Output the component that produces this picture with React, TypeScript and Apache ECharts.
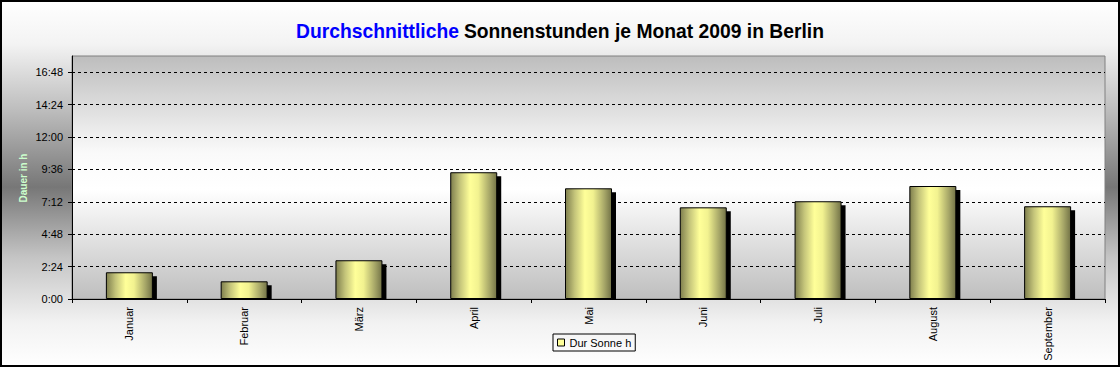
import React, { useEffect, useRef } from "react";
import * as echarts from "echarts";

const categories = ["Januar", "Februar", "März", "April", "Mai", "Juni", "Juli", "August", "September"];
// average sunshine duration in hours
const sunHours = [1.98, 1.31, 2.87, 9.39, 8.2, 6.79, 7.24, 8.37, 6.87];
const seriesName = "Dur Sonne h";
const yAxisTitle = "Dauer in h";
const yMin = 0;
const yMax = 18;
const yInterval = 2.4;

const fmtTime = (v: number) => {
  const m = Math.round(v * 60);
  return Math.floor(m / 60) + ":" + String(m % 60).padStart(2, "0");
};

export default function App() {
  const ref = useRef<HTMLDivElement>(null);
  useEffect(() => {
    document.body.style.margin = "0";
    if (!ref.current) return;
    const chart = echarts.init(ref.current, undefined, { renderer: "svg" });
    const font = "Arial, 'Liberation Sans', sans-serif";
    const barWidth = 47;
    const barGradient = {
      type: "linear", x: 0, y: 0, x2: 1, y2: 0,
      colorStops: [
        { offset: 0, color: "#7f7f4e" },
        { offset: 0.2, color: "#c4c47a" },
        { offset: 0.42, color: "#ffff99" },
        { offset: 0.6, color: "#f2f290" },
        { offset: 0.85, color: "#a5a567" },
        { offset: 1, color: "#737347" },
      ],
    };
    chart.setOption({
      animation: false,
      textStyle: { fontFamily: font },
      title: {
        text: "{b|Durchschnittliche} {k|Sonnenstunden je Monat 2009 in Berlin}",
        left: "center",
        top: 17,
        textStyle: {
          rich: {
            b: { color: "#0000ff", fontWeight: "bold", fontSize: 19.3, fontFamily: font },
            k: { color: "#000000", fontWeight: "bold", fontSize: 19.3, fontFamily: font },
          },
        },
      },
      legend: {
        data: [seriesName],
        left: 553,
        top: 334,
        padding: [3, 4],
        borderColor: "#000",
        borderWidth: 1,
        itemWidth: 7,
        itemHeight: 7,
        icon: "rect",
        itemStyle: { color: "#ffff99", borderColor: "#000", borderWidth: 1 },
        textStyle: { fontSize: 11, color: "#000", fontFamily: font },
      },
      grid: {
        left: 72,
        right: 15,
        top: 56,
        bottom: 68,
        show: true,
        borderColor: "#808080",
        borderWidth: 1,
        backgroundColor: {
          type: "linear", x: 0, y: 0, x2: 0, y2: 1,
          colorStops: [
            { offset: 0, color: "#bdbdbd" },
            { offset: 0.4, color: "#fafafa" },
            { offset: 0.55, color: "#ffffff" },
            { offset: 1, color: "#bebebe" },
          ],
        },
      },
      xAxis: {
        type: "category",
        data: categories,
        axisLine: { lineStyle: { color: "#000", width: 1 } },
        axisTick: { show: true, length: 4, lineStyle: { color: "#000" } },
        axisLabel: { rotate: 90, margin: 8, fontSize: 11, color: "#000", fontFamily: font },
      },
      yAxis: {
        type: "value",
        min: yMin,
        max: yMax,
        interval: yInterval,
        axisLine: { show: true, lineStyle: { color: "#000", width: 1 } },
        axisTick: { show: true, length: 4, lineStyle: { color: "#000" } },
        axisLabel: { formatter: fmtTime, margin: 9, fontSize: 11, color: "#000", fontFamily: font, showMaxLabel: false },
        splitLine: { show: true, showMaxLine: false, lineStyle: { color: "#000", type: [3, 3], width: 1 } },
      },
      graphic: [
        {
          type: "text",
          x: 23,
          y: 178,
          rotation: Math.PI / 2,
          silent: true,
          style: {
            text: yAxisTitle,
            fill: "#ccffcc",
            font: "bold 10px Arial, 'Liberation Sans', sans-serif",
            align: "center",
            verticalAlign: "middle",
          },
        },
        {
          type: "rect",
          shape: { x: 1, y: 1, width: 1118, height: 365 },
          style: { fill: "none", stroke: "#000", lineWidth: 2 },
          z: 100,
          silent: true,
        },
      ],
      series: [
        {
          type: "custom",
          name: "shadow",
          z: 1,
          silent: true,
          data: sunHours.map((v, i) => [i, v]),
          renderItem: (params: any, api: any) => {
            const top = api.coord([api.value(0), api.value(1)]);
            const base = api.coord([api.value(0), 0]);
            return {
              type: "rect",
              shape: { x: top[0] - barWidth / 2 + 4, y: top[1] + 4, width: barWidth, height: Math.max(0, base[1] - top[1] - 4) },
              style: { fill: "#000" },
            };
          },
        },
        {
          type: "bar",
          name: seriesName,
          z: 3,
          data: sunHours,
          barWidth,
          itemStyle: { color: barGradient, borderColor: "#000", borderWidth: 1 },
        },
      ],
    });
    return () => chart.dispose();
  }, []);
  return (
    <div
      ref={ref}
      style={{
        width: 1120,
        height: 367,
        background:
          "linear-gradient(to bottom, #ffffff 0%, #f3f3f3 12%, #bdbdbd 30%, #777777 51%, #c4c4c4 70%, #f2f2f2 88%, #ffffff 100%)",
      }}
    />
  );
}
